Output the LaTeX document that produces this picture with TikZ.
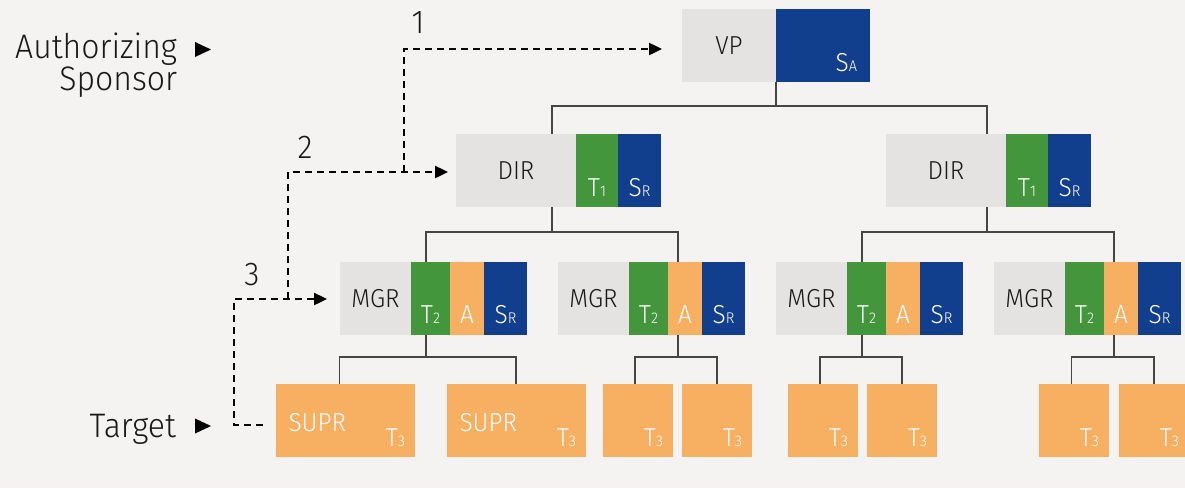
\documentclass[tikz,border=0pt]{standalone}
\usepackage{fontspec}
\IfFontExistsTF{Fira Sans Light}{\setmainfont{Fira Sans Light}[FakeStretch=0.94]}{\setmainfont{Fira Sans}[FakeStretch=0.94]}
\usetikzlibrary{arrows.meta,calc}
\definecolor{bgc}{HTML}{F4F3F1}
\definecolor{grayc}{HTML}{E4E3E1}
\definecolor{bluec}{HTML}{113F8E}
\definecolor{greenc}{HTML}{43963C}
\definecolor{orangec}{HTML}{F7AF62}
\definecolor{linec}{HTML}{454545}
\definecolor{txtc}{HTML}{1A1A1A}
\newcommand\bigf{\fontsize{26}{26}\selectfont}
\newcommand\hugef{\fontsize{34}{34}\selectfont}
\newcommand\numf{\fontsize{33}{33}\selectfont}
\newcommand\smf[1]{{\fontsize{15.5}{15.5}\selectfont #1}}
\newcommand\mgrgroup[2]{%
  \node[greycell,minimum width=71pt] (#1g) at (#2,262) {MGR};
  \node[greencell,minimum width=39pt] (#1t) at (#1g.north east) {};
  \node[orangecell,minimum width=34pt] (#1a) at (#1t.north east) {};
  \node[bluecell,minimum width=43pt] (#1s) at (#1a.north east) {};
  \node[lab,anchor=base] (#1tl) at ($(#1t.south)+(0,-12)$) {T\smf{2}};
  \node[lab,anchor=base] (#1al) at ($(#1a.south)+(0,-12)$) {A};
  \node[lab,anchor=base] (#1sl) at ($(#1s.south)+(0,-12)$) {S\smf{R}};
}
\newcommand\dirgroup[3]{%
  \node[greycell,minimum width=#3pt] (#1g) at (#2,134) {DIR};
  \node[greencell,minimum width=42pt] (#1t) at (#1g.north east) {};
  \node[bluecell,minimum width=43pt] (#1s) at (#1t.north east) {};
  \node[lab,anchor=base] (#1tl) at ($(#1t.south)+(0,-11)$) {T\smf{1}};
  \node[lab,anchor=base] (#1sl) at ($(#1s.south)+(0,-11)$) {S\smf{R}};
}
\newcommand\tbox[3]{%
  \node[orangecell,minimum width=#3pt] (#1) at (#2,384) {};
  \node[lab,anchor=base east] (#1l) at ($(#1.south east)+(-10,-11)$) {T\smf{3}};
}
\begin{document}
\begin{tikzpicture}[x=1pt,y=-1pt,
  cell/.style={rectangle,inner sep=0pt,outer sep=0pt,anchor=north west,minimum height=73pt,font=\bigf},
  greycell/.style={cell,fill=grayc,text=txtc},
  greencell/.style={cell,fill=greenc},
  orangecell/.style={cell,fill=orangec},
  bluecell/.style={cell,fill=bluec},
  lab/.style={inner sep=0pt,outer sep=0pt,text=white,font=\bigf},
  bigtext/.style={inner sep=0pt,outer sep=0pt,text=txtc,font=\hugef},
  num/.style={inner sep=0pt,outer sep=0pt,text=txtc,font=\numf,anchor=base},
  tree/.style={draw=linec,line width=1.4pt},
  dsh/.style={draw=black,line width=2.4pt,dash pattern=on 7pt off 5pt},
  tip/.style={-{Triangle[length=13pt,width=12pt]}}
]
\useasboundingbox[fill=bgc] (0,0) rectangle (1185,488);
\clip (0,0) rectangle (1185,488);

% VP
\node[greycell,minimum width=94pt] (vpg) at (682,9) {VP};
\node[bluecell,minimum width=94pt] (vps) at (vpg.north east) {};
\node[lab,anchor=base east] (vpsl) at ($(vps.south east)+(-13,-11)$) {S\smf{A}};

% DIR
\dirgroup{d1}{456}{120}
\dirgroup{d2}{886}{120}

% MGR
\mgrgroup{m1}{340}
\mgrgroup{m2}{558}
\mgrgroup{m3}{776}
\mgrgroup{m4}{994}

% bottom row
\node[orangecell,minimum width=139pt] (s1) at (276,384) {};
\node[lab,anchor=base west] (s1n) at ($(s1.south west)+(12.5,-26)$) {SUPR};
\node[lab,anchor=base east] (s1l) at ($(s1.south east)+(-10,-11)$) {T\smf{3}};
\node[orangecell,minimum width=139pt] (s2) at (447,384) {};
\node[lab,anchor=base west] (s2n) at ($(s2.south west)+(12.5,-26)$) {SUPR};
\node[lab,anchor=base east] (s2l) at ($(s2.south east)+(-10,-11)$) {T\smf{3}};
\tbox{c3}{603}{70}
\tbox{c4}{682}{70}
\tbox{c5}{788}{70}
\tbox{c6}{867}{70}
\tbox{c7}{1039}{70}
\tbox{c8}{1119}{70}

% connector points
\coordinate (d1top) at (552,134);
\coordinate (d1bot) at (552,207);
\coordinate (d2top) at (987,134);
\coordinate (d2bot) at (987,207);
\coordinate (m1top) at (426,262);
\coordinate (m1bot) at (426,335);
\coordinate (m2top) at (678,262);
\coordinate (m2bot) at (678,335);
\coordinate (m3top) at (862,262);
\coordinate (m3bot) at (862,335);
\coordinate (m4top) at (1114,262);
\coordinate (m4bot) at (1114,335);
\coordinate (s1top) at (339.5,384);
\coordinate (s2top) at (516,384);
\coordinate (c3top) at (635,384);
\coordinate (c4top) at (717,384);
\coordinate (c5top) at (820,384);
\coordinate (c6top) at (902,384);
\coordinate (c7top) at (1071.5,384);
\coordinate (c8top) at (1154,384);

% tree
\draw[tree] (vpg.south east) -- ++(0,24) coordinate (vpbus);
\draw[tree] (d1top) |- (vpbus) -| (d2top);
\draw[tree] (d1bot) -- ++(0,25) coordinate (d1bus);
\draw[tree] (m1top) |- (d1bus) -| (m2top);
\draw[tree] (d2bot) -- ++(0,25) coordinate (d2bus);
\draw[tree] (m3top) |- (d2bus) -| (m4top);
\draw[tree] (m1bot) -- ++(0,22) coordinate (m1bus);
\draw[tree] (s1top) |- (m1bus) -| (s2top);
\draw[tree] (m2bot) -- ++(0,22) coordinate (m2bus);
\draw[tree] (c3top) |- (m2bus) -| (c4top);
\draw[tree] (m3bot) -- ++(0,22) coordinate (m3bus);
\draw[tree] (c5top) |- (m3bus) -| (c6top);
\draw[tree] (m4bot) -- ++(0,22) coordinate (m4bus);
\draw[tree] (c7top) |- (m4bus) -| (c8top);

% left labels
\node[bigtext,anchor=base east] (auth) at (177,58) {Authorizing};
\node[bigtext,anchor=base east] (spons) at (177,90) {Sponsor};
\node[bigtext,anchor=base east] (target) at (176,437) {Target};
\fill[black] (195,42) -- (211,49.5) -- (195,57) -- cycle;
\fill[black] (195,418.5) -- (211,426) -- (195,433.5) -- cycle;

% dashed escalation paths
\coordinate (t3start) at (263,425);
\coordinate (c3corner) at (234,299);
\coordinate (m1tip) at (327,299);
\coordinate (c2start) at (288,299);
\coordinate (c2corner) at (288,172);
\coordinate (d1tip) at (448,172);
\coordinate (c1start) at (404,172);
\coordinate (c1corner) at (404,49);
\coordinate (vptip) at (662,49);
\draw[dsh,tip] (t3start) -| (c3corner) -- (m1tip);
\draw[dsh,tip] (c2start) -- (c2corner) -- (d1tip);
\draw[dsh,tip] (c1start) -- (c1corner) -- (vptip);
\node[num] (n1) at (418,33) {1};
\node[num] (n2) at (305,158) {2};
\node[num] (n3) at (252,285) {3};
\end{tikzpicture}
\end{document}
